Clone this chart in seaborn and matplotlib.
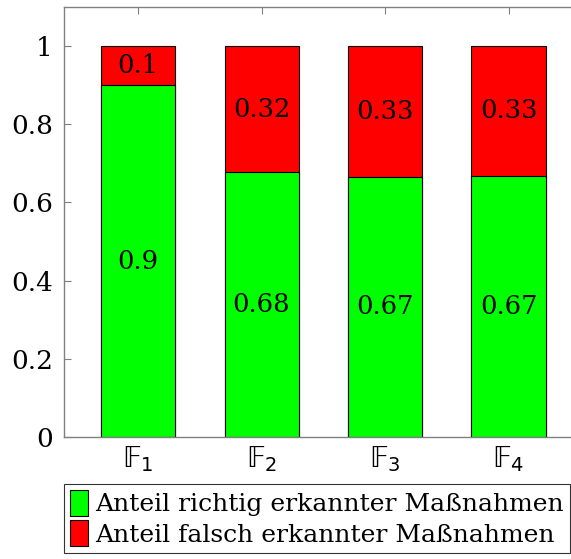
import matplotlib
matplotlib.use("Agg")
import matplotlib.pyplot as plt
import seaborn as sns
import pandas as pd
from matplotlib.patches import Patch

categories = ["$\\mathrm{\U0001D53D}_1$", "$\\mathrm{\U0001D53D}_2$",
              "$\\mathrm{\U0001D53D}_3$", "$\\mathrm{\U0001D53D}_4$"]
richtig = [0.9, 0.678, 0.666, 0.668]
falsch = [0.1, 0.322, 0.334, 0.332]
series_names = ["Anteil richtig erkannter Maßnahmen", "Anteil falsch erkannter Maßnahmen"]
yticks = [0, 0.2, 0.4, 0.6, 0.8, 1]
ytick_labels = ["0", "0.2", "0.4", "0.6", "0.8", "1"]

GREEN = "#00ff00"
RED = "#ff0000"
GRAY = "#808080"

sns.set_style("white")
plt.rcParams["font.family"] = ["DejaVu Serif"]
plt.rcParams["mathtext.fontset"] = "dejavusans"
plt.rcParams["text.color"] = "black"
plt.rcParams["xtick.labelcolor"] = "black"
plt.rcParams["ytick.labelcolor"] = "black"

df = pd.DataFrame({"cat": categories, "richtig": richtig, "falsch": falsch})
df["total"] = df["richtig"] + df["falsch"]

fig = plt.figure(figsize=(5.71, 5.59), dpi=100)
ax = fig.add_axes([64 / 571, (559 - 437) / 559, (582.6 - 64) / 571, (437 - 7) / 559])

sns.barplot(data=df, x="cat", y="total", color=RED, saturation=1, width=0.6,
            edgecolor="black", linewidth=0.8, ax=ax)
sns.barplot(data=df, x="cat", y="richtig", color=GREEN, saturation=1, width=0.6,
            edgecolor="black", linewidth=0.8, ax=ax)

for i, (g, r) in enumerate(zip(richtig, falsch)):
    ax.text(i, g / 2, f"{round(g, 2):g}", ha="center", va="center", fontsize=18.5, color="black")
    ax.text(i, g + r / 2, f"{round(r, 2):g}", ha="center", va="center", fontsize=18.5, color="black")

ax.set_xlim(-0.6, 3.6)
ax.set_ylim(0, 1.1)
ax.set_yticks(yticks)
ax.set_yticklabels(ytick_labels)
ax.set_xlabel("")
ax.set_ylabel("")
ax.tick_params(axis="both", labelsize=19, direction="in", length=5, color=GRAY,
               width=0.8, top=True, right=False, left=True, bottom=True, pad=8,
               labelcolor="black")
ax.tick_params(axis="x", labelsize=20, pad=5)
for name, s in ax.spines.items():
    s.set_visible(name != "right")
    s.set_color(GRAY)
    s.set_linewidth(1.0)

handles = [Patch(facecolor=GREEN, edgecolor="black", linewidth=0.8),
           Patch(facecolor=RED, edgecolor="black", linewidth=0.8)]
leg = fig.legend(handles, series_names, loc="upper left",
                 bbox_to_anchor=(64 / 571, (559 - 484) / 559), borderaxespad=0,
                 fontsize=18, frameon=True, fancybox=False, edgecolor="black",
                 handlelength=0.7, handleheight=1.2, handletextpad=0.3,
                 labelspacing=0.15, borderpad=0.25)
leg.get_frame().set_linewidth(0.8)

fig.savefig("out.png", dpi=100)
